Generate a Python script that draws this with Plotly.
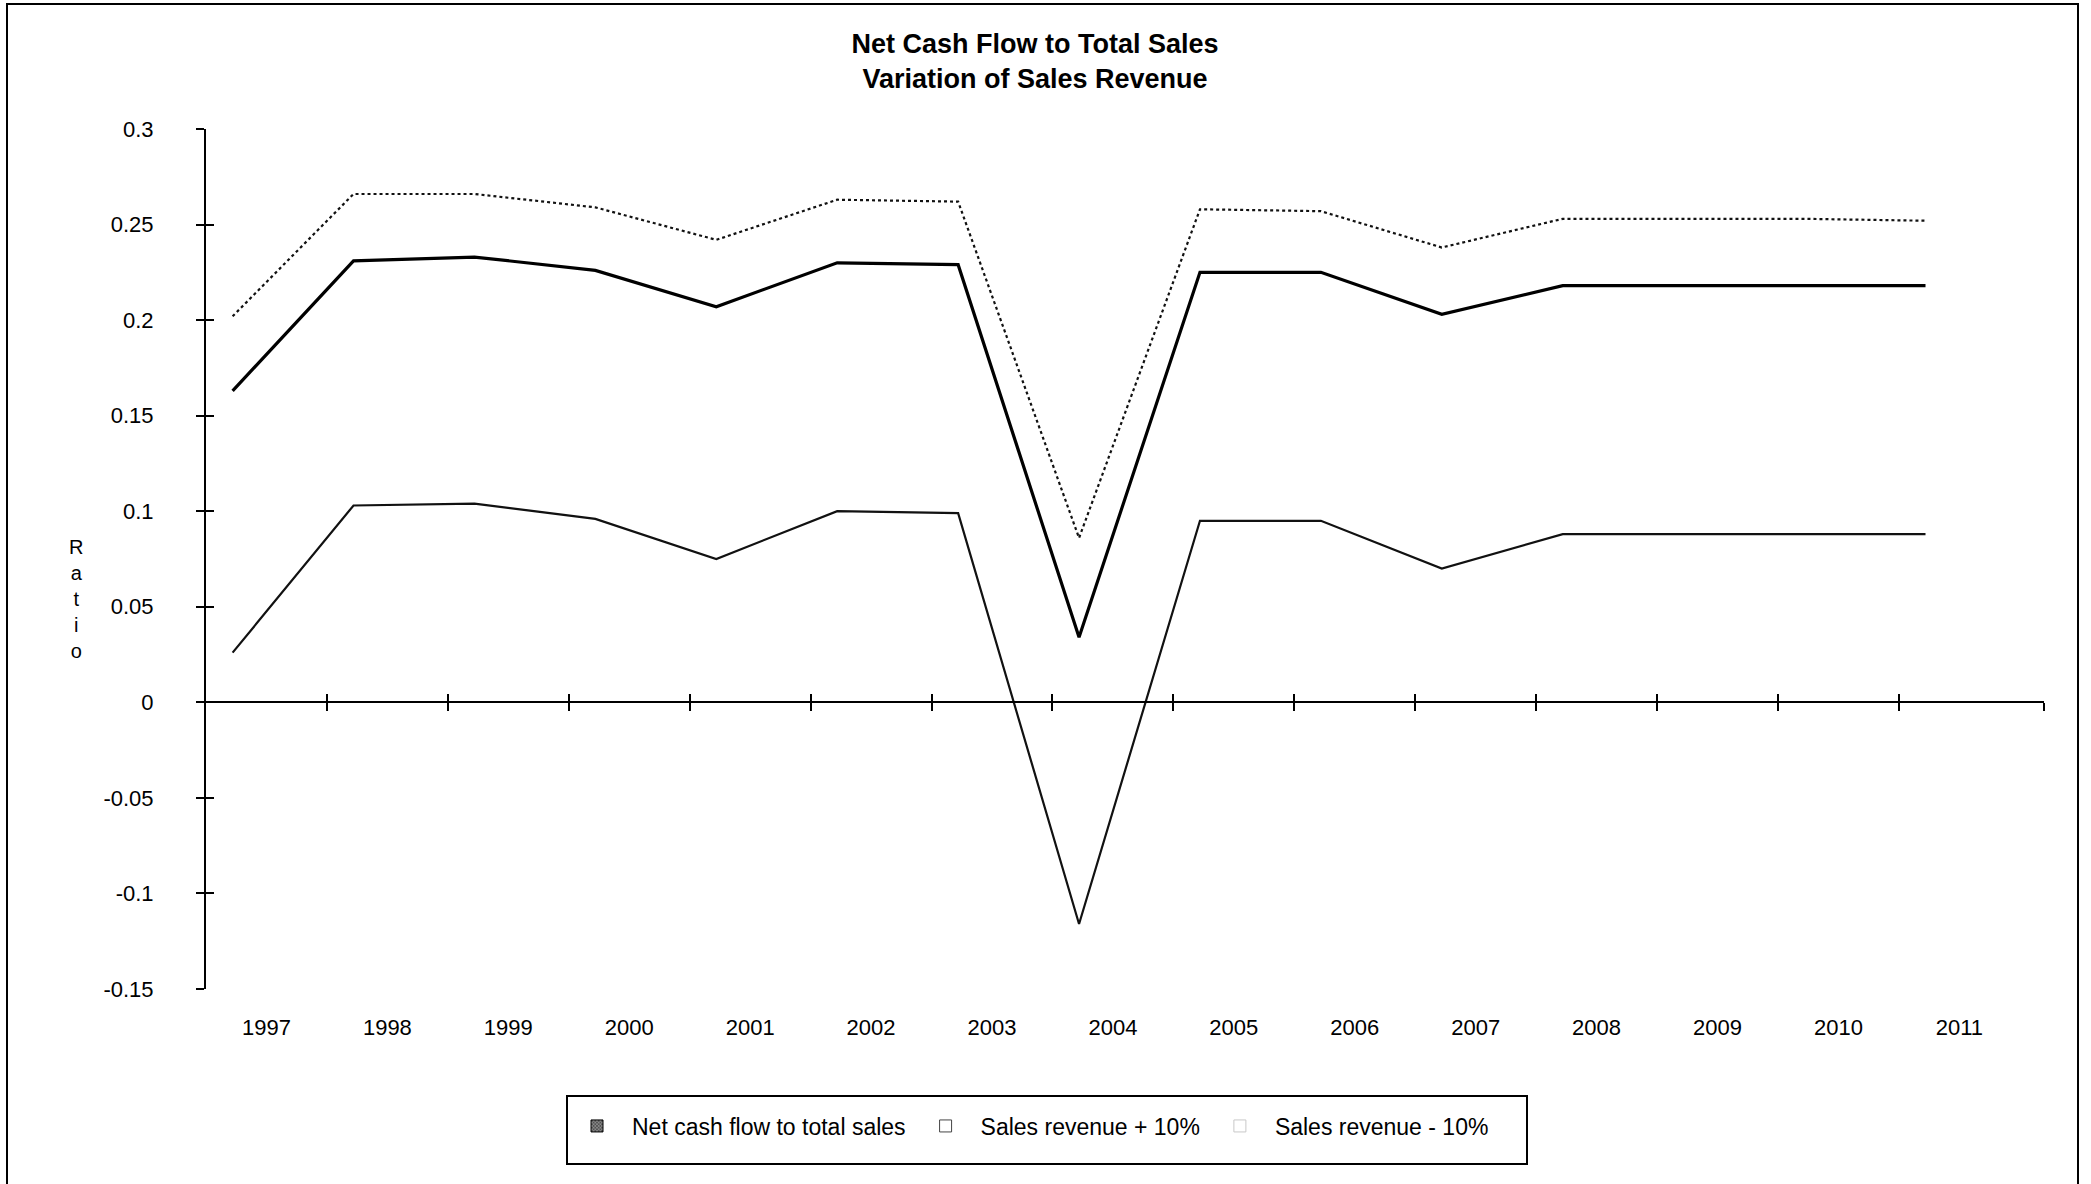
import plotly.graph_objects as go

# ---- data -------------------------------------------------------------
years = [str(y) for y in range(1997, 2012)]

net_cash_flow = [0.163, 0.231, 0.233, 0.226, 0.207, 0.230, 0.229, 0.034,
                 0.225, 0.225, 0.203, 0.218, 0.218, 0.218, 0.218]
revenue_plus_10 = [0.202, 0.266, 0.266, 0.259, 0.242, 0.263, 0.262, 0.086,
                   0.258, 0.257, 0.238, 0.253, 0.253, 0.253, 0.252]
revenue_minus_10 = [0.026, 0.103, 0.104, 0.096, 0.075, 0.100, 0.099, -0.116,
                    0.095, 0.095, 0.070, 0.088, 0.088, 0.088, 0.088]

y_tick_vals = [0.3, 0.25, 0.2, 0.15, 0.1, 0.05, 0, -0.05, -0.1, -0.15]
y_tick_text = ["0.3", "0.25", "0.2", "0.15", "0.1", "0.05", "0", "-0.05", "-0.1", "-0.15"]

# ---- geometry ---------------------------------------------------------
W, H = 2091, 1184
L, R, T, B = 206, 47, 129, 195
Y_MIN, Y_MAX = -0.15, 0.3
X_RANGE = [-0.5, 14.7]          # category index range of the label axis
POINT_SHIFT = 0.28              # line vertices sit left of the label centres
FONT = "Liberation Sans, Arial, sans-serif"

plot_w = W - L - R
plot_h = H - T - B


def px_x(x):
    return (x - L) / plot_w


def px_y(y):
    return (H - B - y) / plot_h


zero_pos = (0 - Y_MIN) / (Y_MAX - Y_MIN)
boundary_ticks = [i + 0.5 for i in range(len(years) - 1)] + [X_RANGE[1]]
no_values = [None] * len(years)

fig = go.Figure()

# series lines
fig.add_trace(go.Scatter(x=years, y=revenue_minus_10, mode="lines",
                         name="Sales revenue - 10%", legendgroup="minus",
                         showlegend=False, xaxis="x2", yaxis="y",
                         line=dict(color="#111111", width=2.2)))
fig.add_trace(go.Scatter(x=years, y=revenue_plus_10, mode="lines",
                         name="Sales revenue + 10%", legendgroup="plus",
                         showlegend=False, xaxis="x2", yaxis="y",
                         line=dict(color="#111111", width=2.2, dash="dot")))
fig.add_trace(go.Scatter(x=years, y=net_cash_flow, mode="lines",
                         name="Net cash flow to total sales", legendgroup="net",
                         showlegend=False, xaxis="x2", yaxis="y",
                         line=dict(color="#000000", width=3.2)))

# legend keys drawn as boxes (no visible values; they also carry the year axis)
fig.add_trace(go.Bar(x=years, y=no_values, name="Net cash flow to total sales",
                     legendgroup="net", xaxis="x", yaxis="y", hoverinfo="skip",
                     marker=dict(color="#3a3a3a", line=dict(color="#000000", width=1),
                                 pattern=dict(shape="x", fgcolor="#000000",
                                              bgcolor="#8a8a8a", size=3, solidity=0.5))))
fig.add_trace(go.Bar(x=years, y=no_values, name="Sales revenue + 10%",
                     legendgroup="plus", xaxis="x", yaxis="y", hoverinfo="skip",
                     marker=dict(color="#ffffff", line=dict(color="#444444", width=1))))
fig.add_trace(go.Bar(x=years, y=no_values, name="Sales revenue - 10%",
                     legendgroup="minus", xaxis="x", yaxis="y", hoverinfo="skip",
                     marker=dict(color="#ffffff", line=dict(color="#c8c8c8", width=1))))

# empty traces so the tick-only axes get drawn
fig.add_trace(go.Scatter(x=[X_RANGE[0]], y=[None], xaxis="x3", yaxis="y",
                         mode="lines", showlegend=False, hoverinfo="skip"))
fig.add_trace(go.Scatter(x=[X_RANGE[0]], y=[None], xaxis="x4", yaxis="y2",
                         mode="lines", showlegend=False, hoverinfo="skip"))

fig.update_layout(
    width=W, height=H,
    margin=dict(l=L, r=R, t=T, b=B, pad=0),
    paper_bgcolor="white", plot_bgcolor="white",
    font=dict(family=FONT, size=22, color="#000000"),
    title=dict(text="<b>Net Cash Flow to Total Sales<br>Variation of Sales Revenue</b>",
               x=1035 / W, xref="container", xanchor="center",
               y=1 - 53 / H, yref="container", yanchor="middle",
               font=dict(family=FONT, size=27, color="#000000")),
    showlegend=True,
    legend=dict(orientation="h", xref="container", yref="container",
                x=562 / W, xanchor="left", y=1 - 1126 / H, yanchor="middle",
                itemwidth=60, font=dict(family=FONT, size=23),
                bgcolor="rgba(0,0,0,0)", borderwidth=0),
    # category labels along the bottom
    xaxis=dict(type="category", categoryorder="array", categoryarray=years,
               range=X_RANGE, anchor="y", side="bottom",
               showline=False, showgrid=False, zeroline=False,
               ticks="outside", ticklen=0, tickcolor="white",
               ticklabelstandoff=19, tickfont=dict(family=FONT, size=22)),
    # axis carrying the plotted series
    xaxis2=dict(type="category", categoryorder="array", categoryarray=years,
                range=[X_RANGE[0] + POINT_SHIFT, X_RANGE[1] + POINT_SHIFT],
                overlaying="x", anchor="y", visible=False),
    # horizontal axis line through zero with crossing ticks
    xaxis3=dict(type="linear", range=X_RANGE, overlaying="x",
                anchor="free", position=zero_pos,
                showline=True, linecolor="#000000", linewidth=2,
                showgrid=False, zeroline=False, showticklabels=False,
                tickmode="array", tickvals=boundary_ticks,
                ticks="outside", ticklen=8, tickwidth=2, tickcolor="#000000"),
    xaxis4=dict(type="linear", range=X_RANGE, overlaying="x",
                anchor="free", position=zero_pos,
                showline=False, showgrid=False, zeroline=False, showticklabels=False,
                tickmode="array", tickvals=boundary_ticks,
                ticks="inside", ticklen=8, tickwidth=2, tickcolor="#000000"),
    yaxis=dict(range=[Y_MIN, Y_MAX], anchor="x", side="left",
               showline=True, linecolor="#000000", linewidth=2,
               showgrid=False, zeroline=False,
               tickmode="array", tickvals=y_tick_vals, ticktext=y_tick_text,
               ticks="outside", ticklen=8, tickwidth=2, tickcolor="#000000",
               ticklabelstandoff=38, tickfont=dict(family=FONT, size=22)),
    yaxis2=dict(range=[Y_MIN, Y_MAX], overlaying="y", anchor="x", side="left",
                showline=False, showgrid=False, zeroline=False, showticklabels=False,
                tickmode="array", tickvals=y_tick_vals,
                ticks="inside", ticklen=8, tickwidth=2, tickcolor="#000000"),
    shapes=[
        # outer chart frame
        dict(type="rect", xref="paper", yref="paper",
             x0=px_x(7), x1=px_x(2078), y0=px_y(1195), y1=px_y(4),
             line=dict(color="#000000", width=2), fillcolor="rgba(0,0,0,0)"),
        # legend frame
        dict(type="rect", xref="paper", yref="paper",
             x0=px_x(567), x1=px_x(1527), y0=px_y(1164), y1=px_y(1096),
             line=dict(color="#000000", width=2), fillcolor="rgba(0,0,0,0)"),
    ],
    annotations=[
        dict(text="R<br>a<br>t<br>i<br>o", xref="paper", yref="paper",
             x=px_x(76), y=px_y(599), xanchor="center", yanchor="middle",
             showarrow=False, align="center",
             font=dict(family=FONT, size=20, color="#000000")),
    ],
)

fig.write_html("out.html")
